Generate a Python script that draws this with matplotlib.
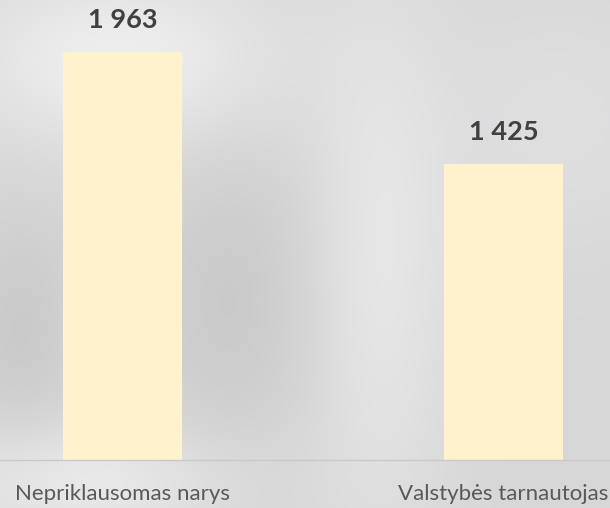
import numpy as np
import matplotlib.pyplot as plt

categories = ["Nepriklausomas narys", "Valstybės tarnautojas"]
values = [1963, 1425]

fig = plt.figure(figsize=(6.1, 5.08), dpi=100)

# soft grey backdrop standing in for the photo behind the chart
h, w = 508, 610
yy, xx = np.mgrid[0:h, 0:w]
bg = np.full((h, w), 0.845)
def blob(cx, cy, sx, sy, amp):
    return amp * np.exp(-(((xx - cx) / sx) ** 2 + ((yy - cy) / sy) ** 2))
bg += blob(120, 60, 160, 90, 0.09)
bg += blob(380, 260, 70, 260, 0.06)
bg += blob(80, 480, 160, 60, 0.07)
bg += blob(560, 120, 120, 120, 0.03)
bg -= blob(230, 300, 90, 160, 0.05)
bg -= blob(20, 330, 60, 120, 0.05)
bg = np.clip(bg, 0, 1)
bgax = fig.add_axes([0, 0, 1, 1])
bgax.imshow(np.dstack([bg, bg, bg * 1.005]).clip(0, 1), aspect="auto")
bgax.axis("off")

ax = fig.add_axes([0, 48 / 508, 1, 460 / 508])
ax.patch.set_alpha(0)
x = np.arange(len(categories))
bars = ax.bar(x, values, width=0.312, color="#FFF2CC")

ax.set_xlim(-0.3215, 1.2795)
ax.set_ylim(0, 2213)

for b, v in zip(bars, values):
    ax.annotate(f"{v:,}".replace(",", " "), (b.get_x() + b.get_width() / 2, v),
                xytext=(0, 23), textcoords="offset points", ha="center", va="center",
                fontsize=19.5, fontweight="bold", color="#404040", family="Lato")

ax.set_xticks(x)
ax.set_xticklabels(categories, fontsize=16, color="#595959", family="Lato")
ax.tick_params(axis="x", length=0, pad=17)
ax.set_yticks([])
for s in ["top", "left", "right"]:
    ax.spines[s].set_visible(False)
ax.spines["bottom"].set_color("#c9c9c9")
ax.spines["bottom"].set_linewidth(1)

fig.savefig("out.png", dpi=100)
